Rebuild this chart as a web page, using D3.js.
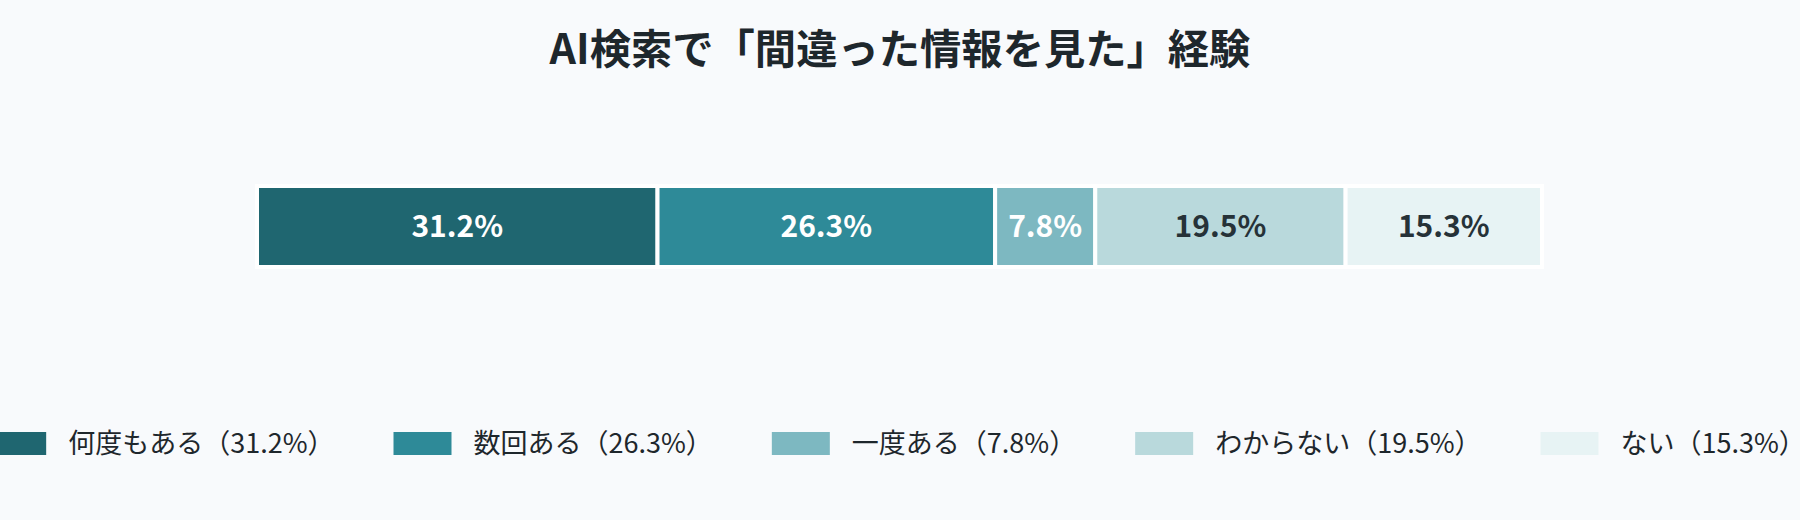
<!DOCTYPE html>
<html><head><meta charset="utf-8">
<script src="https://cdn.jsdelivr.net/npm/d3@7"></script>
<style>
html,body{margin:0;padding:0;background:#f8fafc;}
svg{display:block;font-family:"Noto Sans CJK JP","Noto Sans",sans-serif;}
</style></head>
<body><svg id="c" width="1800" height="520"></svg>
<script>
const titleText = "AI検索で「間違った情報を見た」経験";
const categories = ["何度もある", "数回ある", "一度ある", "わからない", "ない"];
const values = [31.2, 26.3, 7.8, 19.5, 15.3];
const colors = ["#1f6670", "#2e8a98", "#7db8c1", "#b9d9dc", "#e7f3f4"];
const labelColors = ["#ffffff", "#ffffff", "#ffffff", "#263238", "#263238"];

const svg = d3.select("#c");
svg.append("rect").attr("width",1800).attr("height",520).attr("fill","#f8fafc");

svg.append("text").attr("x",900).attr("y",64).attr("text-anchor","middle")
  .attr("font-size",41.3).attr("font-weight",700).attr("fill","#1e272c").text(titleText);

let cum = 0;
const segs = values.map((v,i)=>{const s={cat:categories[i],v,start:cum,i};cum+=v;return s;});
const x = d3.scaleLinear().domain([0, cum]).range([257, 1542]);
const y = d3.scaleBand().domain(["row"]).range([186, 267]);

const g = svg.append("g");
g.selectAll("rect.seg").data(segs).enter().append("rect").attr("class","seg")
  .attr("x",d=>x(d.start)).attr("y",y("row"))
  .attr("width",d=>x(d.start+d.v)-x(d.start)).attr("height",y.bandwidth())
  .attr("fill",d=>colors[d.i]).attr("stroke","#ffffff").attr("stroke-width",4);
g.selectAll("text.lab").data(segs).enter().append("text").attr("class","lab")
  .attr("x",d=>(x(d.start)+x(d.start+d.v))/2).attr("y",y("row")+y.bandwidth()/2+10)
  .attr("text-anchor","middle").attr("font-size",30).attr("font-weight",700)
  .attr("fill",d=>labelColors[d.i]).text(d=>d.v.toFixed(1)+"%");

// legend
const lg = svg.append("g");
const items = lg.selectAll("g.it").data(segs).enter().append("g").attr("class","it");
items.append("rect").attr("width",58).attr("height",23).attr("y",432).attr("fill",d=>colors[d.i]);
items.append("text").attr("x",80).attr("y",453).attr("font-size",27).attr("fill","#1e272c")
  .text(d=>d.cat+"（"+d.v.toFixed(1)+"%）");
const gap = 59;
let pos = 0; const offs=[];
items.each(function(d){offs.push(pos); const w=d3.select(this).select("text").node().getComputedTextLength(); pos += 80 + w + gap;});
const total = pos - gap;
const startX = 897 - total/2;
items.attr("transform",(d,i)=>`translate(${startX+offs[i]},0)`);
</script></body></html>
